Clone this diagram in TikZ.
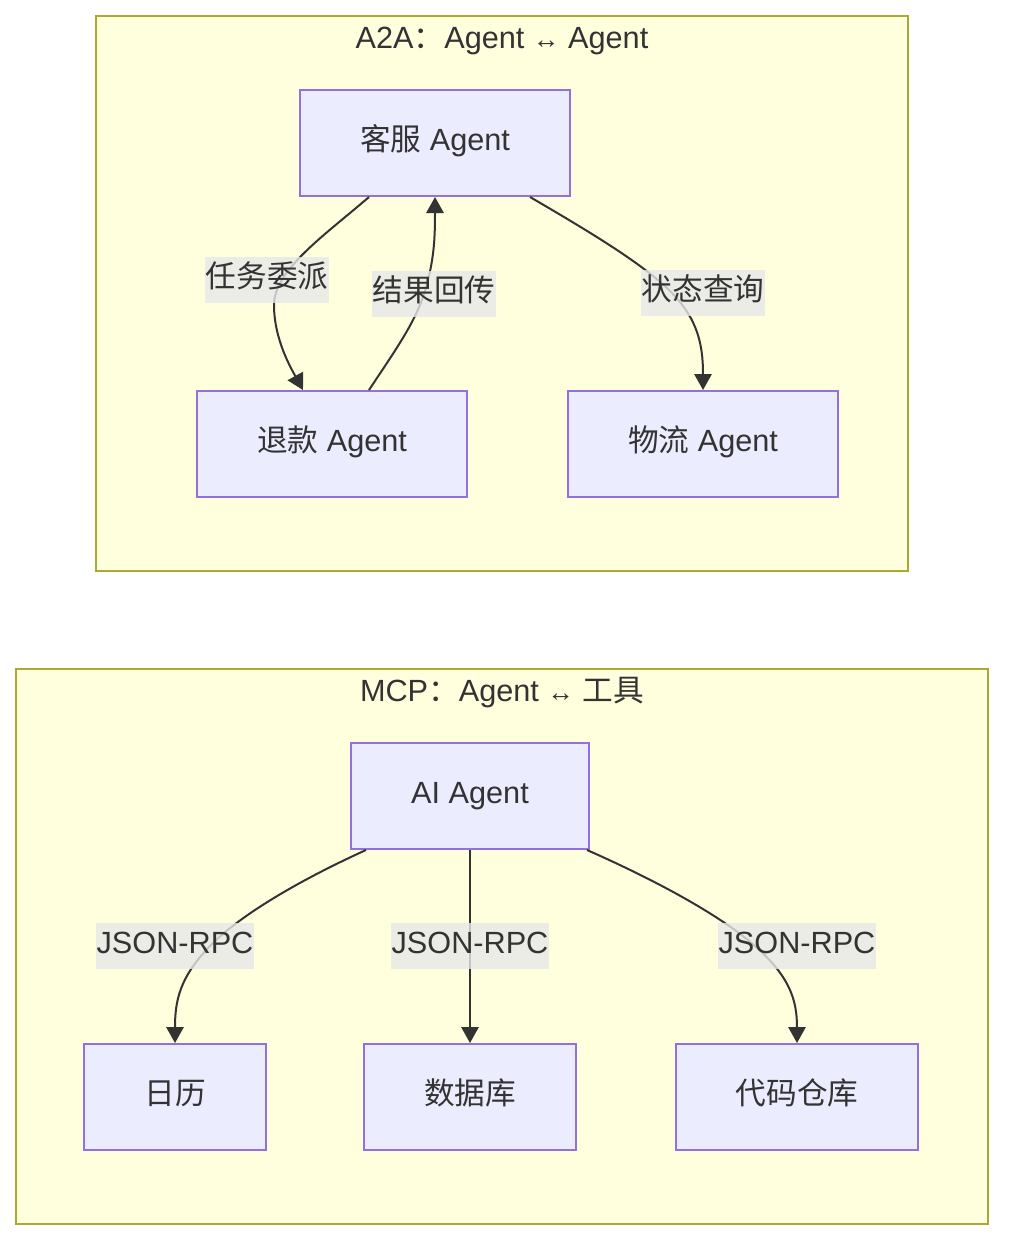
\documentclass[tikz,border=0pt]{standalone}
\usepackage{fontspec}
\setmainfont{Liberation Sans}
\newfontfamily\cjk{Noto Sans CJK SC}
\usetikzlibrary{arrows.meta,calc}
\definecolor{clfill}{HTML}{FFFFDE}
\definecolor{cldraw}{HTML}{AAAA33}
\definecolor{ndfill}{HTML}{ECECFF}
\definecolor{nddraw}{HTML}{9370DB}
\definecolor{ink}{HTML}{333333}
\definecolor{lblbg}{HTML}{E8E8E8}
\newcommand{\lrarrow}{{\fontsize{20}{20}\selectfont ↔}}
\begin{document}
\begin{tikzpicture}[x=0.75pt,y=-0.75pt,
  every node/.style={font=\fontsize{23}{28}\selectfont, text=ink},
  cluster/.style={draw=cldraw,fill=clfill,line width=1.5pt},
  title/.style={anchor=base,inner sep=0pt},
  box/.style={draw=nddraw,fill=ndfill,line width=1.5pt,minimum height=79.5pt,
    inner xsep=45pt,inner ysep=0pt,text height=17.25pt,text depth=5.75pt},
  lbl/.style={fill=lblbg,fill opacity=0.8,text opacity=1,inner xsep=0.5pt,inner ysep=0pt,
    minimum height=34pt,text height=17.25pt,text depth=5.75pt},
  edge/.style={draw=ink,line width=1.5pt,-{Triangle[length=12pt,width=13pt]}}
]
\path[use as bounding box,fill=white] (0,0) rectangle (1020,1260);

% clusters
\draw[cluster] (96,16) rectangle (908,571);
\draw[cluster] (16,669) rectangle (988,1224);
\node[title] (t1) at (502,48) {A2A{\cjk ：}Agent \lrarrow{} Agent};
\node[title] (t2) at (502,701) {MCP{\cjk ：}Agent \lrarrow{} {\cjk 工具}};

% nodes
\node[box] (kefu) at (435,143) {{\cjk 客服} Agent};
\node[box] (tuikuan) at (332,444) {{\cjk 退款} Agent};
\node[box] (wuliu) at (703,444) {{\cjk 物流} Agent};
\node[box] (agent) at (470,796) {AI Agent};
\node[box] (rili) at (175,1097) {{\cjk 日历}};
\node[box] (shuju) at (470,1097) {{\cjk 数据库}};
\node[box] (daima) at (797,1097) {{\cjk 代码仓库}};

% label positions
\coordinate (l1) at (267,280);
\coordinate (l2) at (434,294);
\coordinate (l3) at (703,293);
\coordinate (l4) at (175,946);
\coordinate (l5) at (470,946);
\coordinate (l6) at (797,946);

% edges
\draw[edge] ($(kefu.south)+(-66,0)$) .. controls (325,235) and (274,270) .. (274,305)
  .. controls (274,340) and (292,370) .. ($(tuikuan.north)+(-29,0)$);
\draw[edge] ($(tuikuan.north)+(37,0)$) .. controls (392,355) and (414,325) .. (424,294)
  .. controls (434,262) and (435,240) .. (kefu.south);
\draw[edge] ($(kefu.south)+(95,0)$) .. controls (590,232) and (645,265) .. (672,293)
  .. controls (698,320) and (703,345) .. (wuliu.north);
\draw[edge] ($(agent.south)+(-104,0)$) .. controls (300,880) and (240,915) .. (210,946)
  .. controls (180,977) and (175,1000) .. (rili.north);
\draw[edge] (agent.south) -- (shuju.north);
\draw[edge] ($(agent.south)+(117,0)$) .. controls (655,880) and (720,915) .. (755,946)
  .. controls (790,977) and (797,1000) .. (daima.north);

% edge labels
\node[lbl] (e1) at (l1) {{\cjk 任务委派}};
\node[lbl] (e2) at (l2) {{\cjk 结果回传}};
\node[lbl] (e3) at (l3) {{\cjk 状态查询}};
\node[lbl] (e4) at (l4) {JSON-RPC};
\node[lbl] (e5) at (l5) {JSON-RPC};
\node[lbl] (e6) at (l6) {JSON-RPC};
\end{tikzpicture}
\end{document}
